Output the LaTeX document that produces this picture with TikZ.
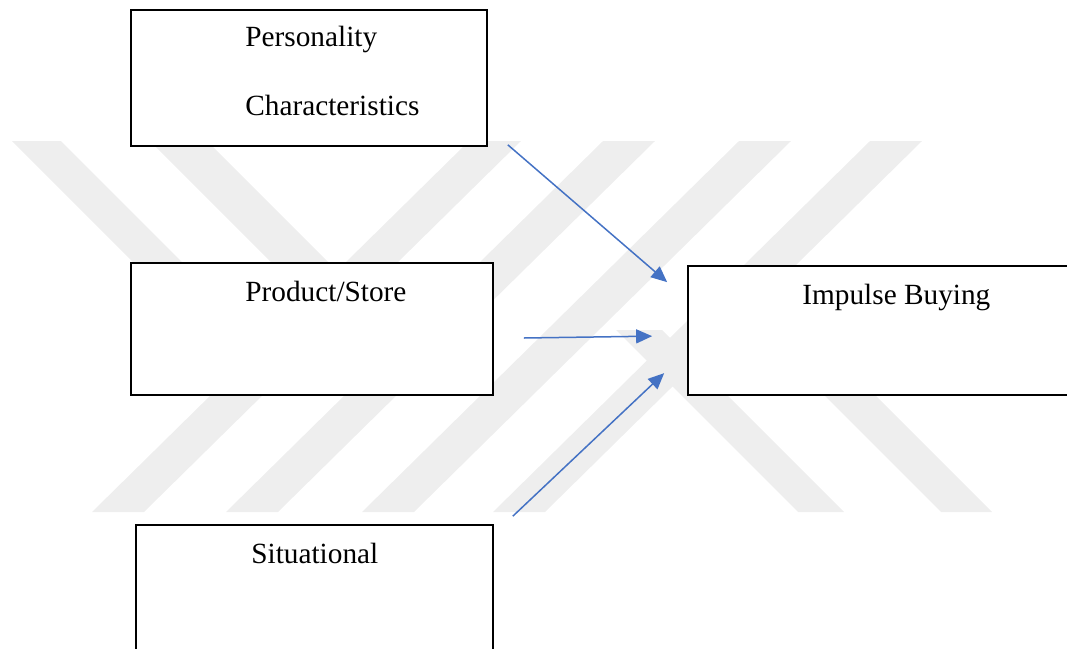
\documentclass[tikz,border=0pt]{standalone}
\usepackage{fontspec}
\setmainfont{Liberation Serif}
\usetikzlibrary{arrows.meta,calc}
\definecolor{arrowblue}{RGB}{68,114,196}
\definecolor{stripegray}{RGB}{238,238,238}

\begin{document}
\begin{tikzpicture}[x=1pt, y=-1pt,
        box/.style={rectangle, draw, fill=white, line width=1.7pt, inner sep=0pt},
        lbl/.style={anchor=base west, inner sep=0pt, font=\fontsize{29.3}{35}\selectfont},
        arrow/.style={-{Triangle[length=16pt, width=14pt]}, arrowblue, line width=1.5pt},
        stripe/.style={fill=stripegray, draw=none},
    ]
        \useasboundingbox (0,0) rectangle (1067,648);
        \clip (0,0) rectangle (1067,648);

        % Background stripes: four running down-left, two pairs running down-right
        \foreach \x in {469,603,739,870}
            \fill[stripe] (\x,141) -- ++(52,0) -- ++(-377,371) -- ++(-52,0) -- cycle;
        \foreach \x/\w in {12/49,150/57}
            \fill[stripe] (\x,141) -- ++(\w,0) -- ++(189,189) -- ++(-\w,0) -- cycle;
        \foreach \x/\w in {798/46,941/51}
            \fill[stripe] (\x,512) -- ++(\w,0) -- ++(-182,-182) -- ++(-\w,0) -- cycle;

        % Factor boxes on the left, outcome box on the right
        \node[box, minimum width=356pt, minimum height=136pt] (pers) at (309,78) {};
        \node[box, minimum width=362pt, minimum height=132pt] (prod) at (312,329) {};
        \node[box, minimum width=357pt, minimum height=150pt] (sit) at (314.5,600) {};
        \node[box, minimum width=400pt, minimum height=129pt] (imp) at (888,330.5) {};

        % Box texts
        \node[lbl] (perst) at ($(pers.north west)+(115,37)$) {Personality};
        \node[lbl] (persc) at ($(pers.north west)+(115,106)$) {Characteristics};
        \node[lbl] (prodt) at ($(prod.north west)+(115,39)$) {Product/Store};
        \node[lbl] (sitt) at ($(sit.north west)+(116,39)$) {Situational};
        \node[lbl] (impt) at ($(imp.north west)+(115,39)$) {Impulse Buying};

        % Arrow ends (arrows stop short of the boxes)
        \coordinate (a1s) at ($(pers.south east)+(20,-2)$);
        \coordinate (a1e) at ($(imp.north west)+(-20,17)$);
        \coordinate (a2s) at ($(prod.east)+(30,9)$);
        \coordinate (a2e) at ($(imp.north west)+(-35,71)$);
        \coordinate (a3s) at ($(sit.north east)+(19,-8)$);
        \coordinate (a3e) at ($(imp.north west)+(-23,108)$);

        \draw[arrow] (a1s) -- (a1e);
        \draw[arrow] (a2s) -- (a2e);
        \draw[arrow] (a3s) -- (a3e);

    \end{tikzpicture}
\end{document}
